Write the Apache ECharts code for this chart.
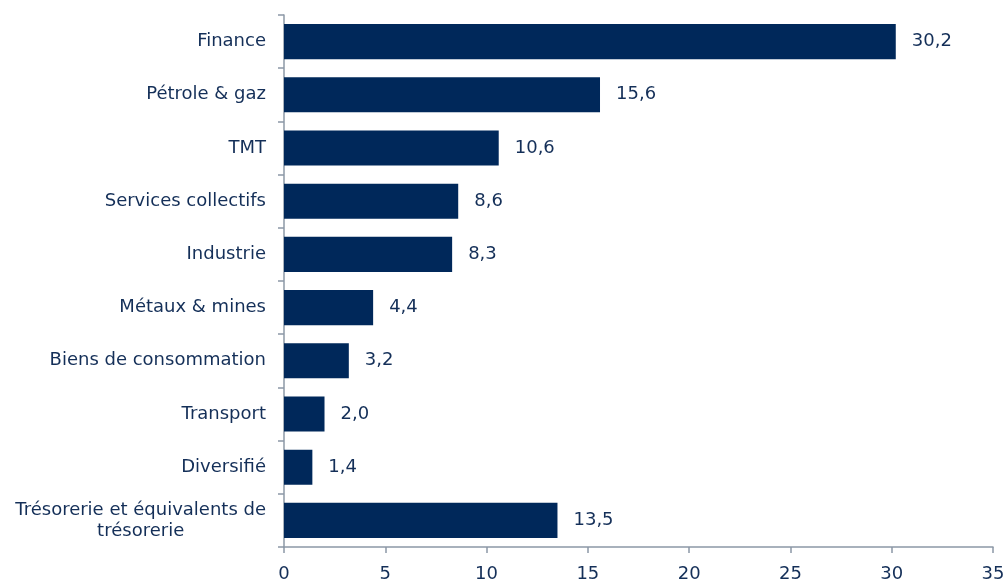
<!DOCTYPE html>
<html>
<head>
<meta charset="utf-8">
<script src="https://cdn.jsdelivr.net/npm/echarts@6/dist/echarts.min.js"></script>
<style>
  html, body { margin: 0; padding: 0; background: #fff; }
  #chart { width: 1006px; height: 579px; }
</style>
</head>
<body>
<div id="chart"></div>
<script>
// secteurs et valeurs (%)
var categories = ['Finance', 'Pétrole & gaz', 'TMT', 'Services collectifs', 'Industrie',
  'Métaux & mines', 'Biens de consommation', 'Transport', 'Diversifié',
  'Trésorerie et équivalents de\ntrésorerie'];
var values = [30.2, 15.6, 10.6, 8.6, 8.3, 4.4, 3.2, 2.0, 1.4, 13.5];
var xTicks = [0, 5, 10, 15, 20, 25, 30, 35];

var navy = '#00285a';
var textColor = '#142f58';
var axisGray = '#8c98a6';
var font = 'DejaVu Sans';
var fs = 18;

var chart = echarts.init(document.getElementById('chart'));
chart.setOption({
  animation: false,
  grid: { left: 284, right: 13, top: 15, bottom: 32, outerBoundsMode: 'none', containLabel: false },
  xAxis: {
    type: 'value',
    min: xTicks[0],
    max: xTicks[xTicks.length - 1],
    interval: 5,
    splitLine: { show: false },
    axisLine: { show: true, lineStyle: { color: axisGray, width: 1.5 } },
    axisTick: { show: true, length: 6, lineStyle: { color: axisGray, width: 1.5 } },
    axisLabel: { color: textColor, fontFamily: font, fontSize: fs, margin: 18 }
  },
  yAxis: {
    type: 'category',
    inverse: true,
    data: categories,
    axisLine: { show: true, lineStyle: { color: axisGray, width: 1.5 } },
    axisTick: { show: true, length: 6, lineStyle: { color: axisGray, width: 1.5 } },
    axisLabel: {
      margin: 18,
      color: textColor,
      fontFamily: font,
      fontSize: fs,
      lineHeight: 21,
      formatter: function (v) {
        return v.split('\n').map(function (s) { return '{c|' + s + '}'; }).join('\n');
      },
      rich: { c: { align: 'center', color: textColor, fontFamily: font, fontSize: fs, lineHeight: 21 } }
    }
  },
  series: [{
    type: 'bar',
    data: values,
    barCategoryGap: '34%',
    itemStyle: { color: navy },
    label: {
      show: true,
      position: 'right',
      distance: 16,
      color: textColor,
      fontFamily: font,
      fontSize: fs,
      formatter: function (p) { return p.value.toFixed(1).replace('.', ','); }
    }
  }]
});
</script>
</body>
</html>
